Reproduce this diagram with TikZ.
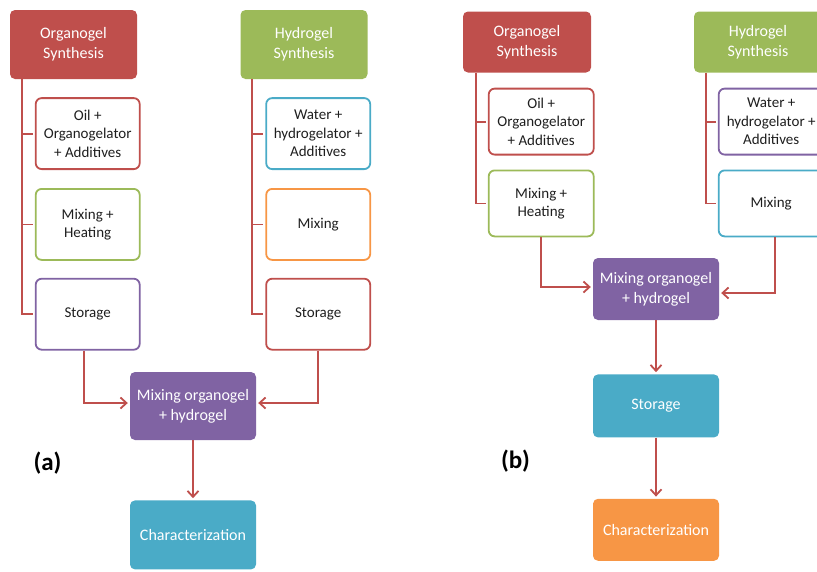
\documentclass[tikz,border=0pt]{standalone}
\usepackage{fontspec}
\setmainfont{Carlito}
\usepackage{tikz}
\usetikzlibrary{positioning, arrows.meta}
\definecolor{offred}{rgb}{0.75,0.31,0.30}
\definecolor{offgreen}{rgb}{0.61,0.73,0.35}
\definecolor{offpurple}{rgb}{0.50,0.39,0.64}
\definecolor{offaqua}{rgb}{0.29,0.67,0.78}
\definecolor{offorange}{rgb}{0.97,0.59,0.27}
\definecolor{darktext}{rgb}{0.12,0.12,0.12}
\tikzstyle{hd}=[%
      rectangle, rounded corners=5pt, draw=none, text=white,
      font=\fontsize{16}{20}\selectfont, align=center, inner sep=2pt
]
\tikzstyle{sb}=[%
      rectangle, rounded corners=6pt, line width=1.8pt, fill=white, text=darktext,
      font=\fontsize{15}{18.5}\selectfont, align=center, inner sep=2pt
]
\tikzstyle{ln}=[draw=offred, line width=1.8pt]
\tikzstyle{lbl}=[font=\fontsize{25}{30}\selectfont\bfseries, text=black]

\begin{document}
\begin{tikzpicture}[x=1pt, y=-1pt,
    >={Straight Barb[length=6pt,width=11pt]}, shorten >=2pt
  ]
    \useasboundingbox (0,0) rectangle (817,571);

    \node[hd, fill=offred, minimum width=127pt, minimum height=69pt] (orgA) at (73.5,44.5) {Organogel\\Synthesis};
    \node[hd, fill=offgreen, minimum width=127pt, minimum height=69pt] (hydA) at (304,44.5) {Hydrogel\\Synthesis};
    \node[sb, draw=offred, minimum width=104pt, minimum height=71pt] (oilA) [below right = 18pt and 25pt of orgA.south west] {Oil +\\Organogelator\\+ Additives};
    \node[sb, draw=offgreen, minimum width=104pt, minimum height=71pt] (heatA) [below = 18pt of oilA] {Mixing +\\Heating};
    \node[sb, draw=offpurple, minimum width=104pt, minimum height=71pt] (storA) [below = 17pt of heatA] {Storage};
    \node[sb, draw=offaqua, minimum width=104pt, minimum height=71pt] (waterA) [below right = 18pt and 25pt of hydA.south west] {Water +\\hydrogelator +\\Additives};
    \node[sb, draw=offorange, minimum width=104pt, minimum height=71pt] (mixA) [below = 18pt of waterA] {Mixing};
    \node[sb, draw=offred, minimum width=104pt, minimum height=71pt] (storHA) [below = 17pt of mixA] {Storage};
    \node[hd, fill=offpurple, minimum width=126pt, minimum height=68pt] (gelA) at (193,406) {Mixing organogel\\+ hydrogel};
    \node[hd, fill=offaqua, minimum width=126pt, minimum height=69pt] (charA) [below = 60pt of gelA] {Characterization};
    \node[lbl] (a) at (47.5,463) {(a)};

    \coordinate (spA) at ([xshift=12.5pt]orgA.south west);
    \coordinate (spHA) at ([xshift=12pt]hydA.south west);
    \draw[ln] (spA) |- (storA.west);
    \draw[ln] (spHA) |- (storHA.west);
    \foreach \n in {oilA, heatA}
      \draw[ln] (spA |- \n.west) -- (\n.west);
    \foreach \n in {waterA, mixA}
      \draw[ln] (spHA |- \n.west) -- (\n.west);
    \draw[ln, ->] ([xshift=-4pt]storA.south) |- ([yshift=3pt]gelA.west);
    \draw[ln, ->] (storHA.south) |- ([yshift=3pt]gelA.east);
    \draw[ln, ->] (gelA) -- (charA);

    \node[hd, fill=offred, minimum width=128pt, minimum height=61pt] (orgB) at (527,42) {Organogel\\Synthesis};
    \node[hd, fill=offgreen, minimum width=128pt, minimum height=61pt] (hydB) at (758,42) {Hydrogel\\Synthesis};
    \node[sb, draw=offred, minimum width=105pt, minimum height=66pt] (oilB) [below right = 15pt and 25pt of orgB.south west] {Oil +\\Organogelator\\+ Additives};
    \node[sb, draw=offgreen, minimum width=105pt, minimum height=66pt] (heatB) [below = 14pt of oilB] {Mixing +\\Heating};
    \node[sb, draw=offpurple, minimum width=105pt, minimum height=66pt] (waterB) [below right = 15pt and 24pt of hydB.south west] {Water +\\hydrogelator +\\Additives};
    \node[sb, draw=offaqua, minimum width=105pt, minimum height=66pt] (mixB) [below = 14pt of waterB] {Mixing};
    \node[hd, fill=offpurple, minimum width=126pt, minimum height=62pt] (gelB) at (656,289) {Mixing organogel\\+ hydrogel};
    \node[hd, fill=offaqua, minimum width=126pt, minimum height=63pt] (storB) [below = 54pt of gelB] {Storage};
    \node[hd, fill=offorange, minimum width=126pt, minimum height=62pt] (charB) [below = 61pt of storB] {Characterization};
    \node[lbl] (b) at (515.5,461) {(b)};

    \coordinate (spB) at ([xshift=13pt]orgB.south west);
    \coordinate (spHB) at ([xshift=12pt]hydB.south west);
    \draw[ln] (spB) |- (heatB.west);
    \draw[ln] (spHB) |- (mixB.west);
    \draw[ln] (spB |- oilB.west) -- (oilB.west);
    \draw[ln] (spHB |- waterB.west) -- (waterB.west);
    \draw[ln, ->] (heatB.south) |- ([yshift=2pt]gelB.west);
    \draw[ln, ->] ([xshift=3.5pt]mixB.south) |- ([yshift=-4pt]gelB.east);
    \draw[ln, ->] (gelB) -- (storB);
    \draw[ln, ->] (storB) -- (charB);
  \end{tikzpicture}
\end{document}
